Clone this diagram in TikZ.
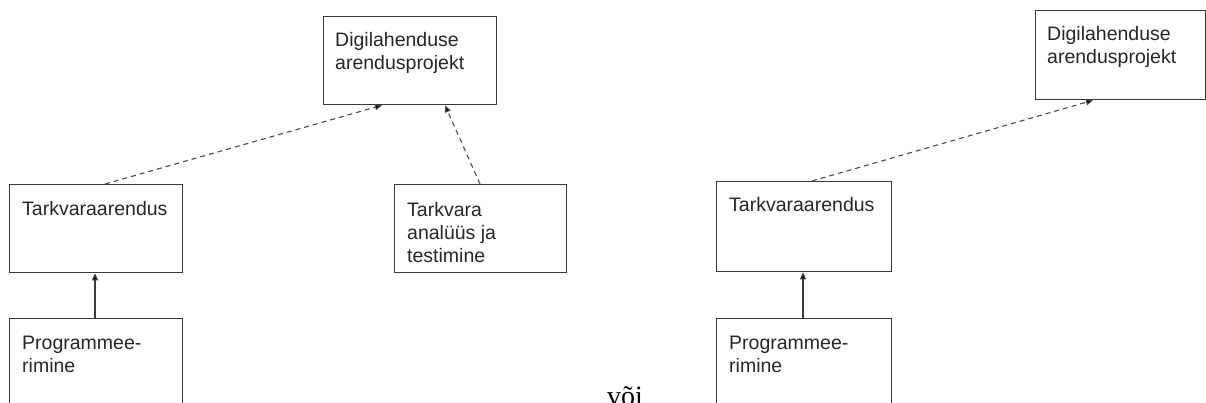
\documentclass[tikz,border=0pt]{standalone}
\usepackage{fontspec}
\setmainfont{Liberation Sans}
\newfontfamily\serifvoi{Liberation Serif}
\usetikzlibrary{arrows.meta}
\definecolor{edge}{HTML}{3A3A3A}
\definecolor{txt}{HTML}{262626}
\definecolor{dashc}{HTML}{4A4A4A}
\tikzset{
  box/.style={draw=edge, line width=1.3pt, rectangle, inner sep=0pt, anchor=north west},
  lbl/.style={anchor=base west, inner sep=0pt, align=left, text=txt,
    font=\fontsize{19.5}{23}\selectfont},
  dep/.style={draw=dashc, line width=1.1pt, dash pattern=on 5pt off 4pt,
    -{Triangle[length=7pt,width=6pt,fill=black]}},
  assoc/.style={draw=edge, line width=1.3pt,
    -{Triangle[length=7pt,width=6pt,fill=black]}},
}
\begin{document}
\begin{tikzpicture}[x=1pt,y=-1pt]
\useasboundingbox (0,0) rectangle (1206,403);
\clip (0,0) rectangle (1206,403);
% left diagram
\node[box, minimum width=173pt, minimum height=88pt] (dL) at (323,16) {};
\node[lbl] (dLt) at (335,70) {Digilahenduse\\arendusprojekt};
\node[box, minimum width=173pt, minimum height=88pt] (tL) at (9,184) {};
\node[lbl] (tLt) at (22,215) {Tarkvaraarendus};
\node[box, minimum width=172pt, minimum height=88pt] (aL) at (394,184) {};
\node[lbl] (aLt) at (407,262) {Tarkvara\\analüüs ja\\testimine};
\node[box, minimum width=173pt, minimum height=120pt] (pL) at (9,318) {};
\node[lbl] (pLt) at (22,372) {Programmee-\\rimine};
% right diagram
\node[box, minimum width=170pt, minimum height=89pt] (dR) at (1035,10) {};
\node[lbl] (dRt) at (1047,64) {Digilahenduse\\arendusprojekt};
\node[box, minimum width=175pt, minimum height=90pt] (tR) at (716,181) {};
\node[lbl] (tRt) at (729,212) {Tarkvaraarendus};
\node[box, minimum width=175pt, minimum height=120pt] (pR) at (716,318) {};
\node[lbl] (pRt) at (729,372) {Programmee-\\rimine};
% "või"
\node[anchor=base, inner sep=0pt, text=black, font=\serifvoi\fontsize{28}{30}\selectfont] (voi) at (625,405) {või};
% connectors
\draw[dep] ([xshift=96pt]tL.north west) -- ([xshift=59pt]dL.south west);
\draw[dep] ([xshift=86pt]aL.north west) -- ([xshift=122pt]dL.south west);
\draw[assoc] ([xshift=86pt]pL.north west) -- ([xshift=86pt]tL.south west);
\draw[dep] ([xshift=96pt]tR.north west) -- ([xshift=58pt]dR.south west);
\draw[assoc] ([xshift=87pt]pR.north west) -- ([xshift=87pt]tR.south west);
\end{tikzpicture}
\end{document}
